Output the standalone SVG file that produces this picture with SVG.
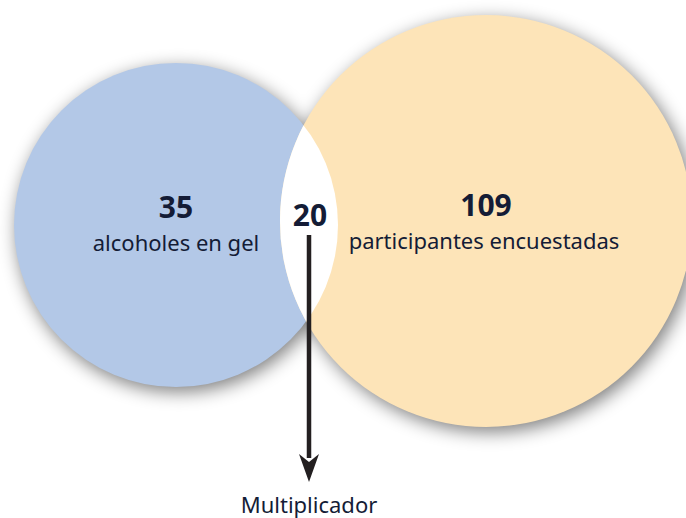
<svg xmlns="http://www.w3.org/2000/svg" width="686" height="518" viewBox="0 0 686 518">
  <defs>
    <filter id="shadow" x="-20%" y="-20%" width="140%" height="140%">
      <feGaussianBlur stdDeviation="9"/>
    </filter>
    <clipPath id="blueClip">
      <circle cx="176" cy="225" r="162"/>
    </clipPath>
    <marker id="arrow" viewBox="0 0 28 20" refX="4" refY="10" markerWidth="28" markerHeight="20" markerUnits="userSpaceOnUse" orient="auto">
      <path d="M28 10 L0 0 L8 10 L0 20 Z" fill="#231f20"/>
    </marker>
    <style>
      .num { font-family: "Noto Sans", "Open Sans", sans-serif; font-weight: 700; font-size: 30px; fill: #141c36; text-anchor: middle; }
      .lbl { font-family: "Noto Sans", "Open Sans", sans-serif; font-size: 22px; fill: #141c36; text-anchor: middle; }
    </style>
  </defs>
  <rect width="686" height="518" fill="#ffffff"/>
  <g id="shadows" filter="url(#shadow)" fill="#000" opacity="0.5">
    <circle cx="179" cy="230" r="162"/>
    <circle cx="490" cy="226" r="206"/>
  </g>
  <g id="blue-set">
    <circle cx="176" cy="225" r="162" fill="#b3c8e7"/>
    <text class="num" x="176" y="218">35</text>
    <text class="lbl" x="176" y="251">alcoholes en gel</text>
  </g>
  <g id="orange-set">
    <circle cx="486" cy="221" r="206" fill="#fde4b8"/>
    <text class="num" x="486" y="216">109</text>
    <text class="lbl" x="484" y="249">participantes encuestadas</text>
  </g>
  <g id="intersection">
    <circle cx="486" cy="221" r="206" fill="#ffffff" clip-path="url(#blueClip)"/>
    <text class="num" x="310" y="226">20</text>
  </g>
  <g id="connectors">
    <line x1="309" y1="235" x2="309" y2="458" stroke="#231f20" stroke-width="4.5" marker-end="url(#arrow)"/>
  </g>
  <g id="multiplicador">
    <text class="lbl" x="309" y="513">Multiplicador</text>
  </g>
</svg>
